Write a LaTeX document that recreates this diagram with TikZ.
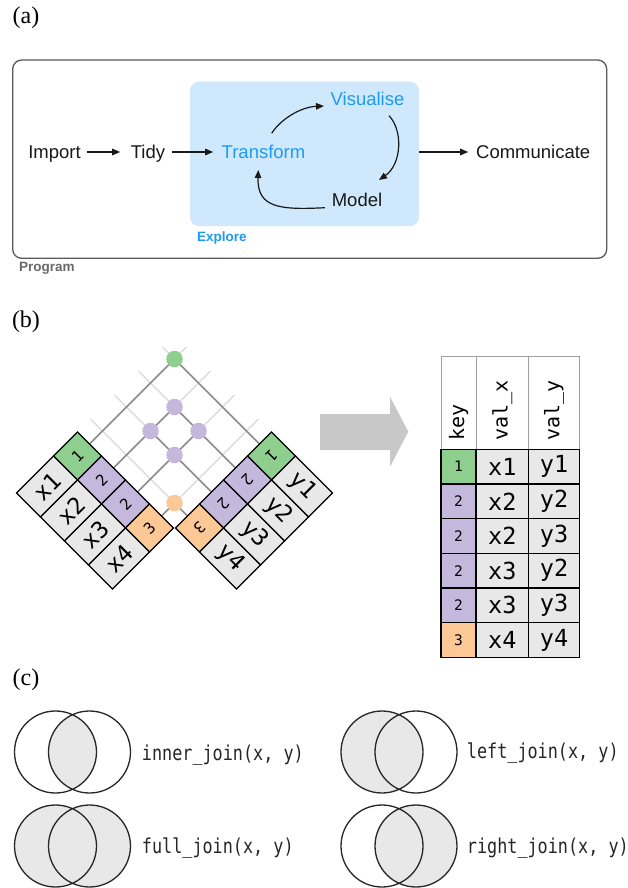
\documentclass[tikz,border=0pt]{standalone}
\usepackage{fontspec}
\setmainfont{Liberation Serif}
\newfontfamily\hv{Liberation Sans}
\newfontfamily\mono{DejaVu Sans Mono}
\newfontfamily\joinfont[FakeStretch=0.82]{DejaVu Sans Mono}
\usetikzlibrary{arrows.meta}
\definecolor{kgreen}{RGB}{142,206,142}
\definecolor{kpurple}{RGB}{196,184,220}
\definecolor{korange}{RGB}{252,200,150}
\definecolor{cellgray}{RGB}{232,232,232}
\definecolor{bluetxt}{RGB}{30,155,240}
\definecolor{bluebox}{RGB}{207,232,252}
\definecolor{arrowgray}{RGB}{200,200,200}
\definecolor{lightline}{RGB}{218,218,218}
\definecolor{darkline}{RGB}{140,140,140}
\definecolor{boxline}{RGB}{90,90,90}
\definecolor{proggray}{RGB}{105,105,105}
\definecolor{venngray}{RGB}{232,232,232}
\definecolor{hdrline}{RGB}{160,160,160}
\begin{document}
\begin{tikzpicture}[x=1pt,y=-1pt,
  panel/.style={font=\fontsize{24}{26}\selectfont, inner sep=0},
  wtxt/.style={font=\hv\fontsize{18.5}{20}\selectfont, inner sep=0, text height=13.2pt, text depth=0pt, text=black!90},
  smalllbl/.style={font=\hv\bfseries\fontsize{13.5}{14}\selectfont, inner sep=0, anchor=west},
  arr/.style={line width=1.2pt, color=black!90, -{Triangle[length=8pt,width=6.5pt]}},
  lightln/.style={line width=1.3pt, lightline},
  darkln/.style={line width=1.6pt, darkline},
  keydot/.style={circle, minimum size=16.5pt, inner sep=0},
  keycell/.style={draw=black, line width=1.1pt, minimum width=33.94pt, minimum height=33.94pt, inner sep=0, font=\mono\fontsize{15.5}{15.5}\selectfont},
  valcell/.style={draw=black, fill=cellgray, line width=1.1pt, minimum width=52.33pt, minimum height=33.94pt, inner sep=0, font=\mono\fontsize{23}{23}\selectfont},
  tkey/.style={draw=black, line width=1.1pt, minimum width=35pt, minimum height=34.67pt, inner sep=0, font=\mono\fontsize{14.5}{14.5}\selectfont},
  tval/.style={draw=black, fill=cellgray, line width=1.1pt, minimum height=34.67pt, inner sep=0, font=\mono\fontsize{23.5}{23.5}\selectfont},
  hdrtxt/.style={font=\mono\fontsize{20}{20}\selectfont, inner sep=0, rotate=90, anchor=west},
  vennline/.style={line width=1.3pt, black!85},
  jointxt/.style={font=\joinfont\fontsize{20.5}{22}\selectfont, inner sep=0, anchor=west, text=black!85}
]
\path[fill=white, use as bounding box] (0,0) rectangle (628,888);

% ---------------- panel (a) ----------------
\node[panel] (la) at (26,18) {(a)};
\node[draw=boxline, line width=1.3pt, rounded corners=9pt, minimum width=594pt, minimum height=198.3pt, inner sep=0] (prog) at (309.7,159.15) {};
\node[fill=bluebox, rounded corners=9pt, minimum width=229pt, minimum height=144.3pt, inner sep=0] (explore) at (304.5,153.85) {};
\node[smalllbl, text=proggray] (proglbl) at (19,268) {Program};
\node[smalllbl, text=bluetxt] (explbl) at (197,237.7) {Explore};

\node[wtxt] (imp) at (54.5,152) {Import};
\node[wtxt] (tidy) at (148,152) {Tidy};
\node[wtxt, text=bluetxt] (trans) at (263.5,152) {Transform};
\node[wtxt, text=bluetxt] (vis) at (367.5,99.3) {Visualise};
\node[wtxt] (model) at (357,200) {Model};
\node[wtxt] (comm) at (533.2,152) {Communicate};

\draw[arr, shorten <=6pt, shorten >=10.5pt] (imp.east) -- (tidy.west);
\draw[arr, shorten <=6.5pt, shorten >=8.3pt] (tidy.east) -- (trans.west);
\draw[arr, shorten >=7.7pt] (explore.east |- comm.west) -- (comm.west);
\draw[arr] ([shift={(8.2,-18.7)}]trans.center) .. controls +(8.3,-13.3) and +(-24,1) .. ([shift={(-43.5,6.7)}]vis.center);
\draw[arr] ([shift={(21.5,16.4)}]vis.center) .. controls +(14,14.3) and +(23,-16) .. ([shift={(22,-20)}]model.center);
\draw[arr] ([shift={(-32,7.7)}]model.center) .. controls +(-45,2.3) and +(-1.3,38) .. ([shift={(-5.2,18)}]trans.center);

% ---------------- panel (b) ----------------
\node[panel] (lb) at (26,322) {(b)};

\foreach \i in {0,...,3} {
  \coordinate (LM\i) at ({89.5+24*\i},{444+24*\i});
  \coordinate (LE\i) at ({186.5+24*\i},{347+24*\i});
  \coordinate (RM\i) at ({259.5-24*\i},{444+24*\i});
  \coordinate (RE\i) at ({162.5-24*\i},{347+24*\i});
}
\coordinate (P00) at (174.5,359);
\coordinate (P11) at (174.5,407);
\coordinate (P12) at (150.5,431);
\coordinate (P21) at (198.5,431);
\coordinate (P22) at (174.5,455);
\coordinate (P33) at (174.5,503);

\foreach \i in {0,...,3} \draw[lightln] (LM\i) -- (LE\i) (RM\i) -- (RE\i);
\draw[darkln] (LM0) -- (P00) (LM1) -- (P11) (LM2) -- (P21) (LM3) -- (P33)
              (RM0) -- (P00) (RM1) -- (P11) (RM2) -- (P12) (RM3) -- (P33);
\node[keydot, fill=kgreen] (d00) at (P00) {};
\node[keydot, fill=kpurple] (d11) at (P11) {};
\node[keydot, fill=kpurple] (d12) at (P12) {};
\node[keydot, fill=kpurple] (d21) at (P21) {};
\node[keydot, fill=kpurple] (d22) at (P22) {};
\node[keydot, fill=korange] (d33) at (P33) {};

\foreach \i/\k/\c in {0/1/kgreen, 1/2/kpurple, 2/2/kpurple, 3/3/korange} {
  \node[keycell, fill=\c, rotate=45] (lk\i) at ({77.5+24*\i},{456+24*\i}) {\k};
  \node[keycell, fill=\c, rotate=-135] (rk\i) at ({271.5-24*\i},{456+24*\i}) {\k};
}
\foreach \i/\v in {0/x1, 1/x2, 2/x3, 3/x4}
  \node[valcell, rotate=45] (lv\i) at ({47+24*\i},{486.5+24*\i}) {\v};
\foreach \i/\v in {0/y1, 1/y2, 2/y3, 3/y4}
  \node[valcell, rotate=-45] (rv\i) at ({302-24*\i},{486.5+24*\i}) {\v};

% big arrow
\fill[arrowgray] (320,414) -- (390,414) -- (390,396.7) -- (408.3,431.7) -- (390,466.7) -- (390,450) -- (320,450) -- cycle;

% result table
\draw[hdrline, line width=1pt] (441,356) rectangle (476,449.3) (476,356) rectangle (528.5,449.3) (528.5,356) rectangle (579.5,449.3);
\node[hdrtxt] (hkey) at (458.5,441) {key};
\node[hdrtxt] (hvx) at (502.25,441) {val\_x};
\node[hdrtxt] (hvy) at (554,441) {val\_y};
\foreach \r/\k/\c/\vx/\vy in {0/1/kgreen/x1/y1, 1/2/kpurple/x2/y2, 2/2/kpurple/x2/y3, 3/2/kpurple/x3/y2, 4/2/kpurple/x3/y3, 5/3/korange/x4/y4} {
  \node[tkey, fill=\c] (tk\r) at (458.5,{466.63+34.67*\r}) {\k};
  \node[tval, minimum width=52.5pt] (tx\r) at (502.25,{466.63+34.67*\r}) {\vx};
  \node[tval, minimum width=51pt] (ty\r) at (554,{466.63+34.67*\r}) {\vy};
}

% ---------------- panel (c) ----------------
\node[panel] (lc) at (26,680) {(c)};
\coordinate (A1) at (55.5,752);  \coordinate (B1) at (89.5,752);
\coordinate (A2) at (382,752);   \coordinate (B2) at (416,752);
\coordinate (A3) at (55.5,846);  \coordinate (B3) at (89.5,846);
\coordinate (A4) at (382,846);   \coordinate (B4) at (416,846);
\begin{scope}
  \clip (A1) circle[radius=41pt];
  \fill[venngray] (B1) circle[radius=41pt];
\end{scope}
\fill[venngray] (A2) circle[radius=41pt];
\fill[venngray] (A3) circle[radius=41pt] (B3) circle[radius=41pt];
\fill[venngray] (B4) circle[radius=41pt];
\foreach \n in {1,2,3,4}
  \draw[vennline] (A\n) circle[radius=41pt] (B\n) circle[radius=41pt];
\node[jointxt] (tinner) at (141.7,755) {inner\_join(x, y)};
\node[jointxt] (tfull) at (141.7,848.3) {full\_join(x, y)};
\node[jointxt] (tleft) at (466.7,753.3) {left\_join(x, y)};
\node[jointxt] (tright) at (466.7,848) {right\_join(x, y)};
\end{tikzpicture}
\end{document}
